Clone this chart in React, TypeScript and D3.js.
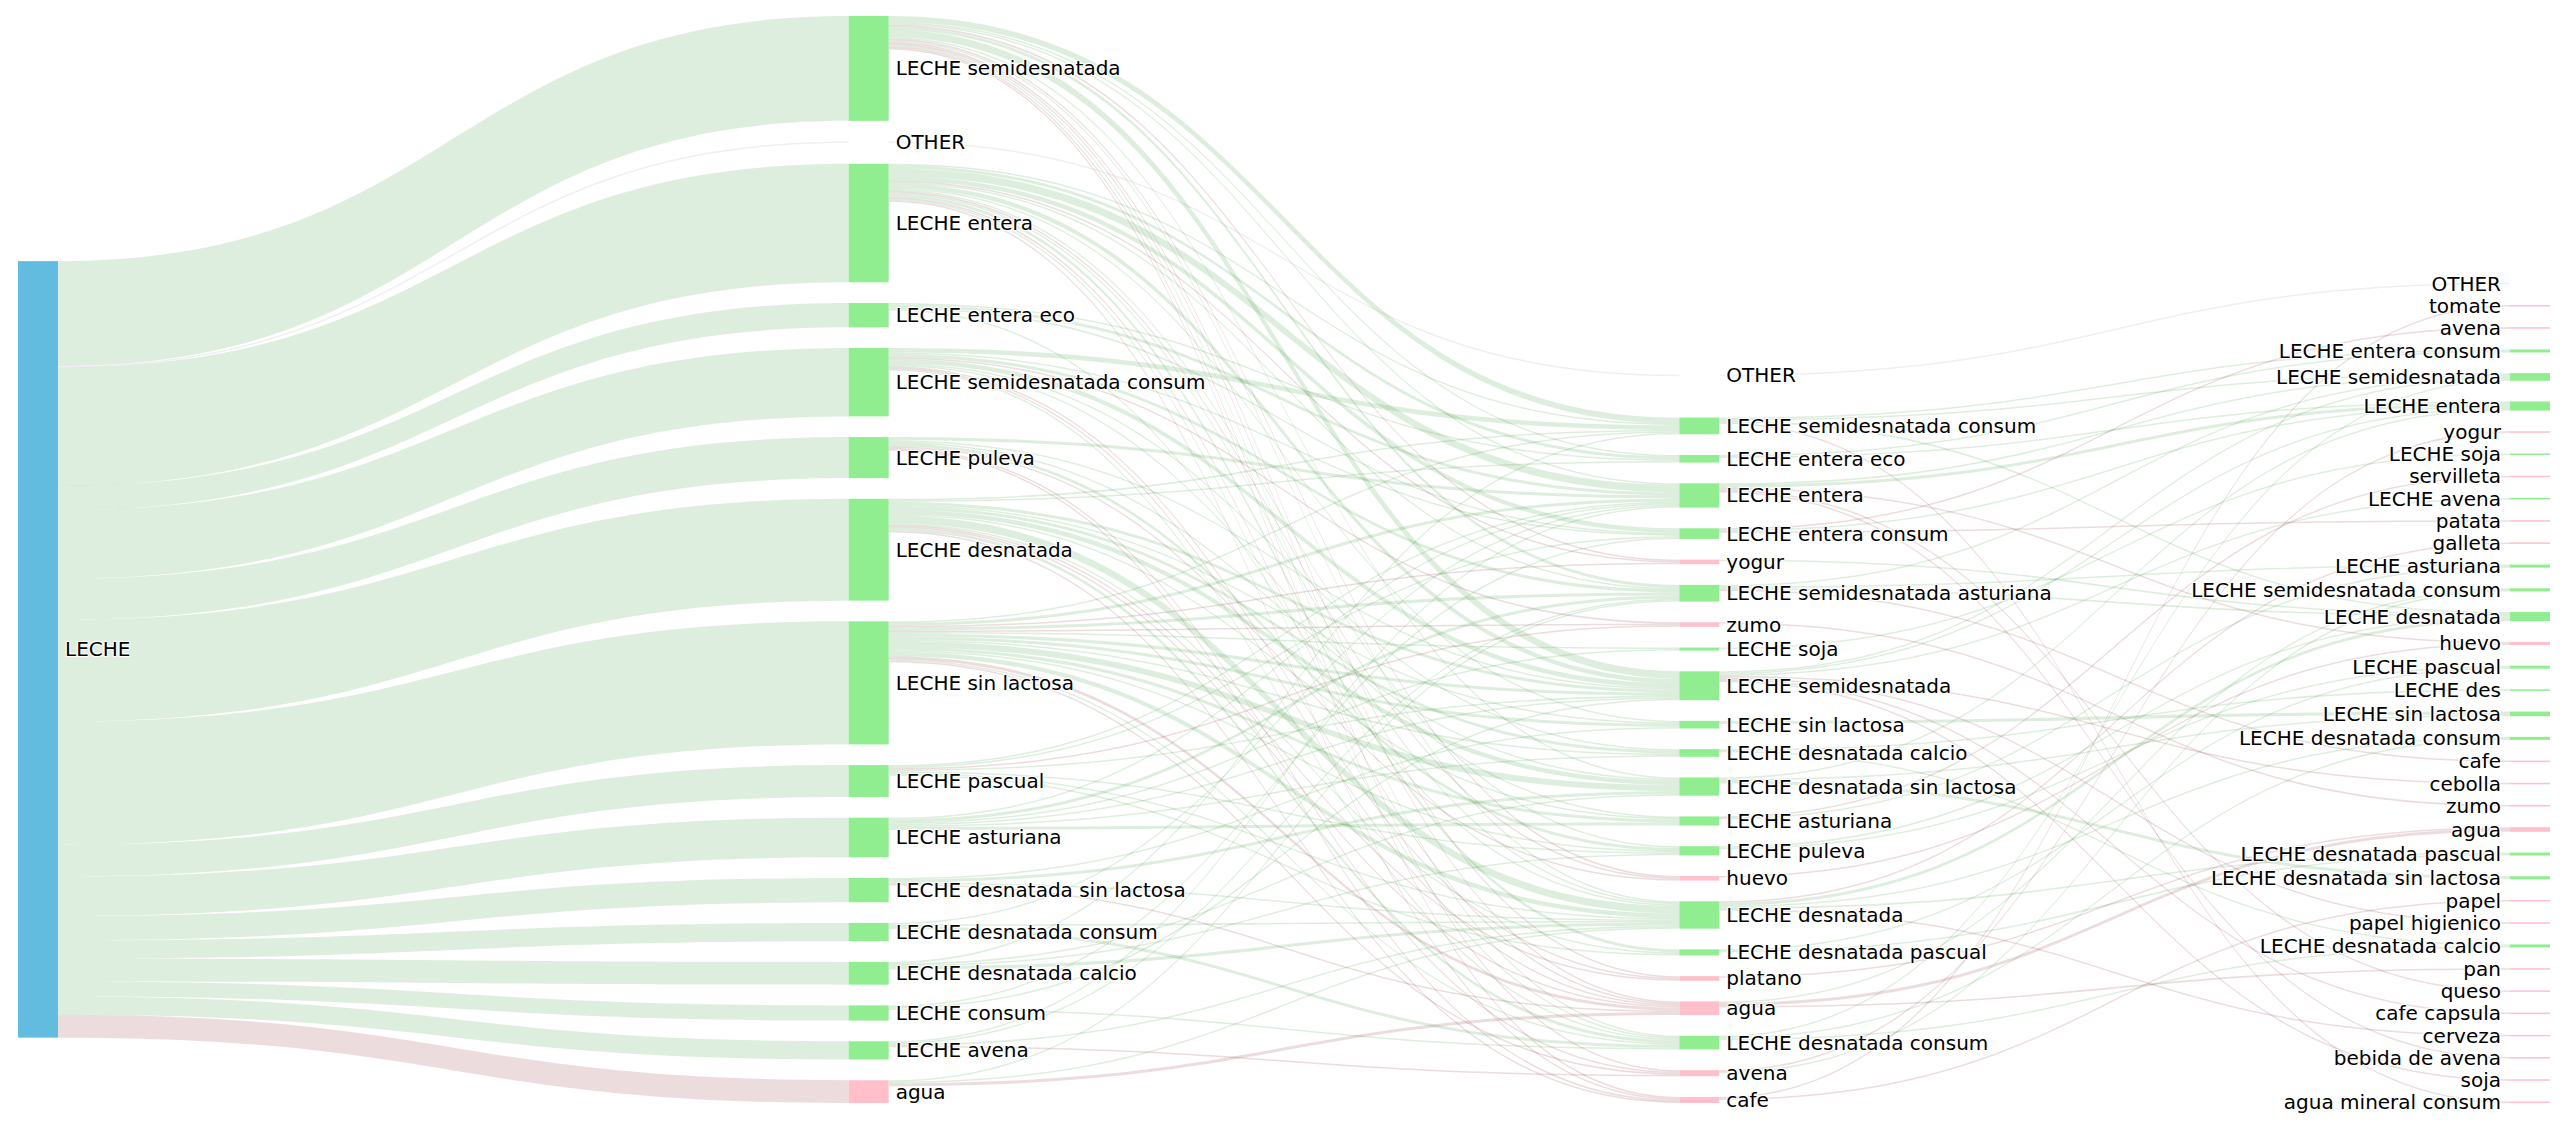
import React, { useMemo } from 'react';
import * as d3 from 'd3';

const WIDTH = 2564;
const HEIGHT = 1126;

// columns of the sankey, top to bottom as they appear
const rootNodes = ['LECHE'];

const firstNodes = [
  'LECHE semidesnatada', 'OTHER', 'LECHE entera', 'LECHE entera eco',
  'LECHE semidesnatada consum', 'LECHE puleva', 'LECHE desnatada', 'LECHE sin lactosa',
  'LECHE pascual', 'LECHE asturiana', 'LECHE desnatada sin lactosa', 'LECHE desnatada consum',
  'LECHE desnatada calcio', 'LECHE consum', 'LECHE avena', 'agua',
];
// flow LECHE -> first column
const firstValues = [69, 1, 78, 16, 45, 27, 67, 81, 21, 26, 16, 12, 15, 10, 12, 15];

const secondNodes = [
  'OTHER', 'LECHE semidesnatada consum', 'LECHE entera eco', 'LECHE entera',
  'LECHE entera consum', 'yogur', 'LECHE semidesnatada asturiana', 'zumo', 'LECHE soja',
  'LECHE semidesnatada', 'LECHE sin lactosa', 'LECHE desnatada calcio',
  'LECHE desnatada sin lactosa', 'LECHE asturiana', 'LECHE puleva', 'huevo',
  'LECHE desnatada', 'LECHE desnatada pascual', 'platano', 'agua',
  'LECHE desnatada consum', 'avena', 'cafe',
];

const thirdNodes = [
  'OTHER', 'tomate', 'avena', 'LECHE entera consum', 'LECHE semidesnatada', 'LECHE entera',
  'yogur', 'LECHE soja', 'servilleta', 'LECHE avena', 'patata', 'galleta', 'LECHE asturiana',
  'LECHE semidesnatada consum', 'LECHE desnatada', 'huevo', 'LECHE pascual', 'LECHE des',
  'LECHE sin lactosa', 'LECHE desnatada consum', 'cafe', 'cebolla', 'zumo', 'agua',
  'LECHE desnatada pascual', 'LECHE desnatada sin lactosa', 'papel', 'papel higienico',
  'LECHE desnatada calcio', 'pan', 'queso', 'cafe capsula', 'cerveza', 'bebida de avena',
  'soja', 'agua mineral consum',
];

// [source in first column, target in second column, value]
const firstToSecond: [string, string, number][] = [
  ['LECHE semidesnatada', 'LECHE semidesnatada consum', 4],
  ['LECHE semidesnatada', 'LECHE semidesnatada', 5],
  ['LECHE semidesnatada', 'LECHE semidesnatada asturiana', 2],
  ['LECHE semidesnatada', 'LECHE desnatada consum', 1],
  ['LECHE semidesnatada', 'LECHE entera', 1],
  ['LECHE semidesnatada', 'LECHE entera eco', 1],
  ['LECHE semidesnatada', 'yogur', 1],
  ['LECHE semidesnatada', 'cafe', 1],
  ['LECHE semidesnatada', 'agua', 1],
  ['LECHE semidesnatada', 'LECHE desnatada', 1],
  ['LECHE semidesnatada', 'LECHE desnatada sin lactosa', 1],
  ['LECHE semidesnatada', 'avena', 1],
  ['LECHE semidesnatada', 'platano', 1],
  ['LECHE semidesnatada', 'huevo', 1],
  ['OTHER', 'OTHER', 1],
  ['LECHE entera', 'LECHE entera', 5],
  ['LECHE entera', 'LECHE desnatada pascual', 2],
  ['LECHE entera', 'LECHE entera eco', 2],
  ['LECHE entera', 'LECHE entera consum', 3],
  ['LECHE entera', 'LECHE semidesnatada', 3],
  ['LECHE entera', 'yogur', 1],
  ['LECHE entera', 'LECHE semidesnatada asturiana', 1],
  ['LECHE entera', 'huevo', 1],
  ['LECHE entera', 'LECHE puleva', 1],
  ['LECHE entera', 'LECHE sin lactosa', 1],
  ['LECHE entera', 'LECHE desnatada', 1],
  ['LECHE entera', 'agua', 1],
  ['LECHE entera', 'cafe', 1],
  ['LECHE entera', 'LECHE desnatada consum', 1],
  ['LECHE entera', 'LECHE semidesnatada consum', 1],
  ['LECHE entera eco', 'LECHE entera eco', 1],
  ['LECHE entera eco', 'LECHE desnatada', 1],
  ['LECHE entera eco', 'LECHE entera', 2],
  ['LECHE entera eco', 'LECHE entera consum', 1],
  ['LECHE semidesnatada consum', 'LECHE semidesnatada consum', 3],
  ['LECHE semidesnatada consum', 'LECHE desnatada calcio', 1],
  ['LECHE semidesnatada consum', 'LECHE semidesnatada', 3],
  ['LECHE semidesnatada consum', 'LECHE semidesnatada asturiana', 2],
  ['LECHE semidesnatada consum', 'LECHE entera consum', 1],
  ['LECHE semidesnatada consum', 'LECHE desnatada consum', 1],
  ['LECHE semidesnatada consum', 'zumo', 1],
  ['LECHE semidesnatada consum', 'LECHE asturiana', 1],
  ['LECHE semidesnatada consum', 'agua', 1],
  ['LECHE semidesnatada consum', 'platano', 1],
  ['LECHE puleva', 'LECHE puleva', 2],
  ['LECHE puleva', 'cafe', 1],
  ['LECHE puleva', 'LECHE entera', 2],
  ['LECHE puleva', 'LECHE semidesnatada', 1],
  ['LECHE puleva', 'LECHE desnatada sin lactosa', 1],
  ['LECHE puleva', 'avena', 1],
  ['LECHE puleva', 'huevo', 1],
  ['LECHE desnatada', 'LECHE desnatada', 5],
  ['LECHE desnatada', 'LECHE entera eco', 1],
  ['LECHE desnatada', 'LECHE desnatada calcio', 2],
  ['LECHE desnatada', 'LECHE desnatada sin lactosa', 3],
  ['LECHE desnatada', 'LECHE desnatada consum', 2],
  ['LECHE desnatada', 'LECHE desnatada pascual', 1],
  ['LECHE desnatada', 'LECHE semidesnatada', 2],
  ['LECHE desnatada', 'LECHE semidesnatada consum', 1],
  ['LECHE desnatada', 'agua', 1],
  ['LECHE desnatada', 'cafe', 1],
  ['LECHE desnatada', 'LECHE sin lactosa', 1],
  ['LECHE desnatada', 'LECHE asturiana', 1],
  ['LECHE desnatada', 'platano', 1],
  ['LECHE sin lactosa', 'LECHE sin lactosa', 2],
  ['LECHE sin lactosa', 'yogur', 1],
  ['LECHE sin lactosa', 'LECHE desnatada sin lactosa', 4],
  ['LECHE sin lactosa', 'LECHE desnatada', 3],
  ['LECHE sin lactosa', 'LECHE semidesnatada', 2],
  ['LECHE sin lactosa', 'LECHE semidesnatada asturiana', 2],
  ['LECHE sin lactosa', 'LECHE entera', 2],
  ['LECHE sin lactosa', 'LECHE asturiana', 2],
  ['LECHE sin lactosa', 'LECHE desnatada calcio', 1],
  ['LECHE sin lactosa', 'agua', 2],
  ['LECHE sin lactosa', 'zumo', 1],
  ['LECHE sin lactosa', 'LECHE soja', 1],
  ['LECHE sin lactosa', 'LECHE puleva', 1],
  ['LECHE sin lactosa', 'LECHE semidesnatada consum', 1],
  ['LECHE sin lactosa', 'LECHE desnatada consum', 1],
  ['LECHE sin lactosa', 'avena', 1],
  ['LECHE pascual', 'LECHE desnatada pascual', 1],
  ['LECHE pascual', 'zumo', 1],
  ['LECHE pascual', 'LECHE desnatada', 1],
  ['LECHE pascual', 'LECHE semidesnatada', 1],
  ['LECHE pascual', 'LECHE entera', 1],
  ['LECHE pascual', 'LECHE puleva', 1],
  ['LECHE pascual', 'LECHE entera consum', 1],
  ['LECHE asturiana', 'LECHE asturiana', 2],
  ['LECHE asturiana', 'LECHE soja', 1],
  ['LECHE asturiana', 'LECHE semidesnatada asturiana', 2],
  ['LECHE asturiana', 'LECHE entera', 1],
  ['LECHE asturiana', 'LECHE semidesnatada', 1],
  ['LECHE asturiana', 'LECHE desnatada calcio', 1],
  ['LECHE desnatada sin lactosa', 'LECHE desnatada sin lactosa', 2],
  ['LECHE desnatada sin lactosa', 'LECHE sin lactosa', 1],
  ['LECHE desnatada sin lactosa', 'LECHE desnatada', 1],
  ['LECHE desnatada sin lactosa', 'agua', 1],
  ['LECHE desnatada consum', 'LECHE desnatada consum', 2],
  ['LECHE desnatada consum', 'LECHE desnatada', 1],
  ['LECHE desnatada consum', 'LECHE entera', 1],
  ['LECHE desnatada calcio', 'LECHE semidesnatada consum', 1],
  ['LECHE desnatada calcio', 'LECHE puleva', 1],
  ['LECHE desnatada calcio', 'LECHE desnatada', 2],
  ['LECHE desnatada calcio', 'LECHE desnatada sin lactosa', 1],
  ['LECHE consum', 'LECHE desnatada consum', 1],
  ['LECHE consum', 'LECHE entera consum', 1],
  ['LECHE consum', 'LECHE semidesnatada', 1],
  ['LECHE avena', 'avena', 1],
  ['LECHE avena', 'LECHE semidesnatada asturiana', 1],
  ['LECHE avena', 'LECHE desnatada', 1],
  ['LECHE avena', 'LECHE entera', 1],
  ['agua', 'agua', 2],
  ['agua', 'LECHE semidesnatada asturiana', 1],
  ['agua', 'LECHE desnatada', 1],
];

// [source in second column, target in third column, value]
const secondToThird: [string, string, number][] = [
  ['OTHER', 'OTHER', 1],
  ['LECHE semidesnatada consum', 'agua mineral consum', 1],
  ['LECHE semidesnatada consum', 'LECHE semidesnatada', 1],
  ['LECHE semidesnatada consum', 'LECHE entera consum', 1],
  ['LECHE semidesnatada consum', 'LECHE desnatada', 1],
  ['LECHE entera eco', 'LECHE entera', 1],
  ['LECHE entera eco', 'LECHE entera consum', 1],
  ['LECHE entera', 'LECHE entera', 2],
  ['LECHE entera', 'bebida de avena', 1],
  ['LECHE entera', 'huevo', 1],
  ['LECHE entera', 'LECHE semidesnatada', 1],
  ['LECHE entera', 'queso', 1],
  ['LECHE entera consum', 'LECHE entera', 1],
  ['LECHE entera consum', 'avena', 1],
  ['LECHE entera consum', 'patata', 1],
  ['yogur', 'LECHE desnatada', 1],
  ['LECHE semidesnatada asturiana', 'LECHE asturiana', 1],
  ['LECHE semidesnatada asturiana', 'LECHE semidesnatada', 1],
  ['LECHE semidesnatada asturiana', 'LECHE desnatada', 1],
  ['LECHE semidesnatada asturiana', 'cafe', 1],
  ['zumo', 'zumo', 1],
  ['LECHE soja', 'LECHE soja', 1],
  ['LECHE semidesnatada', 'LECHE semidesnatada', 1],
  ['LECHE semidesnatada', 'soja', 1],
  ['LECHE semidesnatada', 'LECHE entera', 1],
  ['LECHE semidesnatada', 'LECHE avena', 1],
  ['LECHE semidesnatada', 'cafe capsula', 1],
  ['LECHE semidesnatada', 'papel higienico', 1],
  ['LECHE semidesnatada', 'cebolla', 1],
  ['LECHE sin lactosa', 'LECHE sin lactosa', 2],
  ['LECHE desnatada calcio', 'LECHE desnatada calcio', 1],
  ['LECHE desnatada calcio', 'LECHE des', 1],
  ['LECHE desnatada sin lactosa', 'LECHE sin lactosa', 1],
  ['LECHE desnatada sin lactosa', 'LECHE desnatada sin lactosa', 2],
  ['LECHE desnatada sin lactosa', 'LECHE entera', 1],
  ['LECHE asturiana', 'LECHE asturiana', 1],
  ['LECHE asturiana', 'servilleta', 1],
  ['LECHE puleva', 'LECHE desnatada', 1],
  ['LECHE puleva', 'LECHE pascual', 1],
  ['huevo', 'huevo', 1],
  ['LECHE desnatada', 'LECHE desnatada', 2],
  ['LECHE desnatada', 'galleta', 1],
  ['LECHE desnatada', 'LECHE desnatada pascual', 1],
  ['LECHE desnatada', 'LECHE desnatada consum', 1],
  ['LECHE desnatada', 'cerveza', 1],
  ['LECHE desnatada pascual', 'LECHE desnatada pascual', 1],
  ['LECHE desnatada pascual', 'LECHE pascual', 1],
  ['platano', 'agua', 1],
  ['agua', 'agua', 2],
  ['agua', 'LECHE semidesnatada consum', 1],
  ['agua', 'pan', 1],
  ['LECHE desnatada consum', 'LECHE desnatada consum', 1],
  ['LECHE desnatada consum', 'LECHE desnatada calcio', 1],
  ['LECHE desnatada consum', 'LECHE semidesnatada', 1],
  ['avena', 'yogur', 1],
  ['avena', 'LECHE semidesnatada consum', 1],
  ['cafe', 'tomate', 1],
  ['cafe', 'papel', 1],
];

interface SNode {
  name: string;
  layer: number;
  value: number;
  x0: number; x1: number; y0: number; y1: number;
  sourceLinks: SLink[];
  targetLinks: SLink[];
}

interface SLink {
  source: SNode;
  target: SNode;
  value: number;
  width: number;
  y0: number;
  y1: number;
}

const nodeColor = (n: SNode) => {
  if (n.layer === 0) return '#62bce0';
  if (n.name === 'OTHER') return 'rgba(0,0,0,0)';
  return n.name.startsWith('LECHE') ? '#90ee90' : '#ffc0cb';
};

const linkColor = (l: SLink) => {
  if (l.target.name === 'OTHER') return 'rgba(128,128,128,0.13)';
  return l.target.name.startsWith('LECHE') ? 'rgba(34,139,34,0.15)' : 'rgba(128,20,35,0.15)';
};

function buildSankey() {
  const margin = { top: 16, bottom: 1103, left: 18, right: 2550 };
  const nodeWidth = 40;
  const pad = 20.7;

  const columns: SNode[][] = [rootNodes, firstNodes, secondNodes, thirdNodes].map((names, layer) =>
    names.map(name => ({ name, layer, value: 0, x0: 0, x1: 0, y0: 0, y1: 0, sourceLinks: [], targetLinks: [] }))
  );
  const find = (layer: number, name: string) => columns[layer].find(n => n.name === name)!;

  const links: SLink[] = [];
  const addLink = (source: SNode, target: SNode, value: number) => {
    const l = { source, target, value, width: 0, y0: 0, y1: 0 };
    source.sourceLinks.push(l);
    target.targetLinks.push(l);
    links.push(l);
  };
  firstNodes.forEach((name, i) => addLink(columns[0][0], find(1, name), firstValues[i]));
  firstToSecond.forEach(([s, t, v]) => addLink(find(1, s), find(2, t), v));
  secondToThird.forEach(([s, t, v]) => addLink(find(2, s), find(3, t), v));

  const nodes = columns.flat();
  nodes.forEach(n => {
    n.value = Math.max(d3.sum(n.sourceLinks, l => l.value), d3.sum(n.targetLinks, l => l.value));
  });

  const x = d3.scaleLinear().domain([0, columns.length - 1]).range([margin.left, margin.right - nodeWidth]);
  const innerH = margin.bottom - margin.top;
  const ky = d3.min(columns, c => (innerH - (c.length - 1) * pad) / d3.sum(c, n => n.value))!;

  const stack = (col: SNode[], start: number) => {
    let y = start;
    col.forEach(n => {
      n.y0 = y;
      n.y1 = y + n.value * ky;
      y = n.y1 + pad;
    });
  };
  const colHeight = (col: SNode[]) => d3.sum(col, n => n.value * ky) + (col.length - 1) * pad;

  columns.forEach((col, layer) => col.forEach(n => { n.x0 = x(layer); n.x1 = n.x0 + nodeWidth; }));
  // first column from the top, later columns sit on the bottom
  stack(columns[1], margin.top);
  stack(columns[2], margin.bottom - colHeight(columns[2]));
  stack(columns[3], margin.bottom - colHeight(columns[3]));
  // the OTHER bucket of the second column floats a bit higher, towards its neighbours
  const other2 = find(2, 'OTHER');
  const lift = Math.min(pad, (other2.y0 - find(3, 'OTHER').y0) / 4);
  other2.y0 -= lift;
  other2.y1 -= lift;
  // root centred on its targets
  const root = columns[0][0];
  const mid = d3.mean(root.sourceLinks, l => (l.target.y0 + l.target.y1) / 2)!;
  root.y0 = mid - (root.value * ky) / 2;
  root.y1 = root.y0 + root.value * ky;

  nodes.forEach(n => {
    n.sourceLinks.sort((a, b) => a.target.y0 - b.target.y0);
    n.targetLinks.sort((a, b) => a.source.y0 - b.source.y0);
    let y0 = n.y0;
    n.sourceLinks.forEach(l => { l.width = l.value * ky; l.y0 = y0; y0 += l.width; });
    let y1 = n.y0;
    n.targetLinks.forEach(l => { l.y1 = y1; y1 += l.value * ky; });
  });

  return { nodes, links, lastLayer: columns.length - 1 };
}

const linkPath = (l: SLink) => {
  const x0 = l.source.x1;
  const x1 = l.target.x0;
  const xi = d3.interpolateNumber(x0, x1);
  const xc = xi(0.5);
  const p = d3.path();
  p.moveTo(x0, l.y0);
  p.bezierCurveTo(xc, l.y0, xc, l.y1, x1, l.y1);
  p.lineTo(x1, l.y1 + l.width);
  p.bezierCurveTo(xc, l.y1 + l.width, xc, l.y0 + l.width, x0, l.y0 + l.width);
  p.closePath();
  return p.toString();
};

const shadow = '1px 1px 1px #fff, 1px -1px 1px #fff, -1px 1px 1px #fff, -1px -1px 1px #fff';

export default function App() {
  const { nodes, links, lastLayer } = useMemo(buildSankey, []);

  return (
    <svg
      width={WIDTH}
      height={HEIGHT}
      style={{ position: 'absolute', left: 0, top: 0, background: '#fff' }}
      fontFamily="'DejaVu Sans', Verdana, sans-serif"
    >
      <g>
        {links.map((l, i) => (
          <path key={i} d={linkPath(l)} fill={linkColor(l)} />
        ))}
      </g>
      <g>
        {nodes.map((n, i) => (
          <rect key={i} x={n.x0} y={n.y0} width={n.x1 - n.x0} height={Math.max(n.y1 - n.y0, 0.5)} fill={nodeColor(n)} />
        ))}
      </g>
      <g fontSize={20} fill="#000">
        {nodes.map((n, i) => {
          const last = n.layer === lastLayer;
          return (
            <text
              key={i}
              x={last ? n.x0 - 9 : n.x1 + 7}
              y={(n.y0 + n.y1) / 2}
              dy="0.35em"
              textAnchor={last ? 'end' : 'start'}
              style={{ textShadow: shadow }}
            >
              {n.name}
            </text>
          );
        })}
      </g>
    </svg>
  );
}
